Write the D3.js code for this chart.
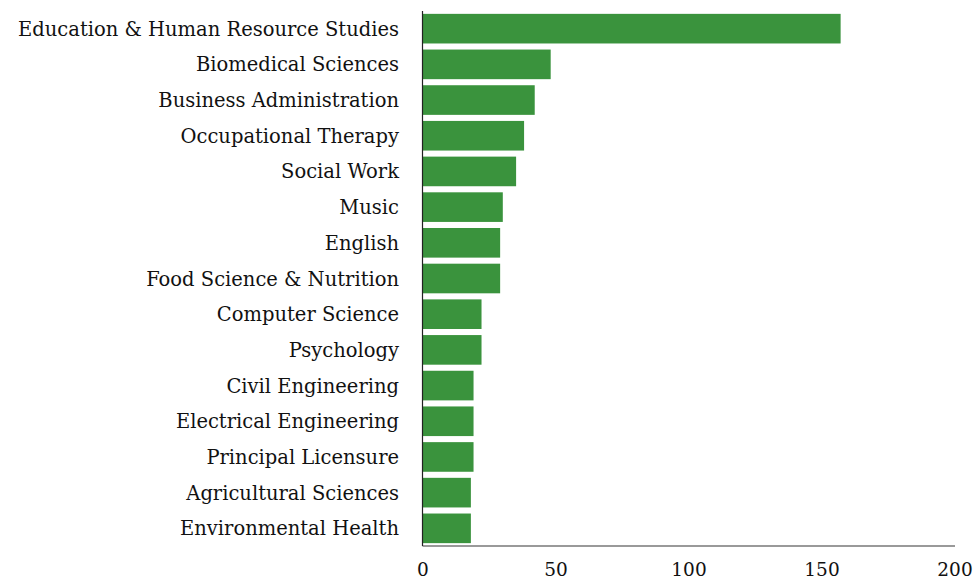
<!DOCTYPE html>
<html><head><meta charset="utf-8">
<script src="https://cdn.jsdelivr.net/npm/d3@7"></script>
<style>body{margin:0;background:#fff}svg{display:block}</style>
</head><body>
<svg id="c" width="974" height="580"></svg>
<script>
const categories = ["Education & Human Resource Studies","Biomedical Sciences","Business Administration","Occupational Therapy","Social Work","Music","English","Food Science & Nutrition","Computer Science","Psychology","Civil Engineering","Electrical Engineering","Principal Licensure","Agricultural Sciences","Environmental Health"];
const values = [157,48,42,38,35,30,29,29,22,22,19,19,19,18,18];
const xTicks = [0,50,100,150,200];

(function(){
const svg = d3.select("#c");
const mLeft = 423, mRight = 955, mTop = 11, mBottom = 546;
const x = d3.scaleLinear().domain([0,200]).range([mLeft,mRight]);
const y = d3.scaleBand().domain(categories).range([mTop,mBottom]).paddingInner(0.17).paddingOuter(0.08);
const font = "DejaVu Serif";

svg.append("g").selectAll("rect").data(categories).join("rect")
  .attr("x", x(0)).attr("y", d=>y(d))
  .attr("width", (d,i)=>x(values[i])-x(0)).attr("height", y.bandwidth())
  .attr("fill","#3a933d");

svg.append("g").selectAll("text").data(categories).join("text")
  .attr("x", 399).attr("y", d=>y(d)+y.bandwidth()/2).attr("dy","0.36em")
  .attr("text-anchor","end").attr("font-family",font).attr("font-size",19.5).attr("fill","#111")
  .text(d=>d);

svg.append("line").attr("x1",x(0)-0.5).attr("x2",x(200)).attr("y1",mBottom).attr("y2",mBottom)
  .attr("stroke","#777").attr("stroke-width",1.6);
svg.append("line").attr("x1",x(0)-0.5).attr("x2",x(0)-0.5).attr("y1",mTop).attr("y2",mBottom)
  .attr("stroke","#222").attr("stroke-width",1.2);

svg.append("g").selectAll("text").data(xTicks).join("text")
  .attr("x", d=>x(d)).attr("y", 576).attr("text-anchor","middle")
  .attr("font-family",font).attr("font-size",18.5).attr("fill","#111").text(d=>d);
})();
</script>
</body></html>
